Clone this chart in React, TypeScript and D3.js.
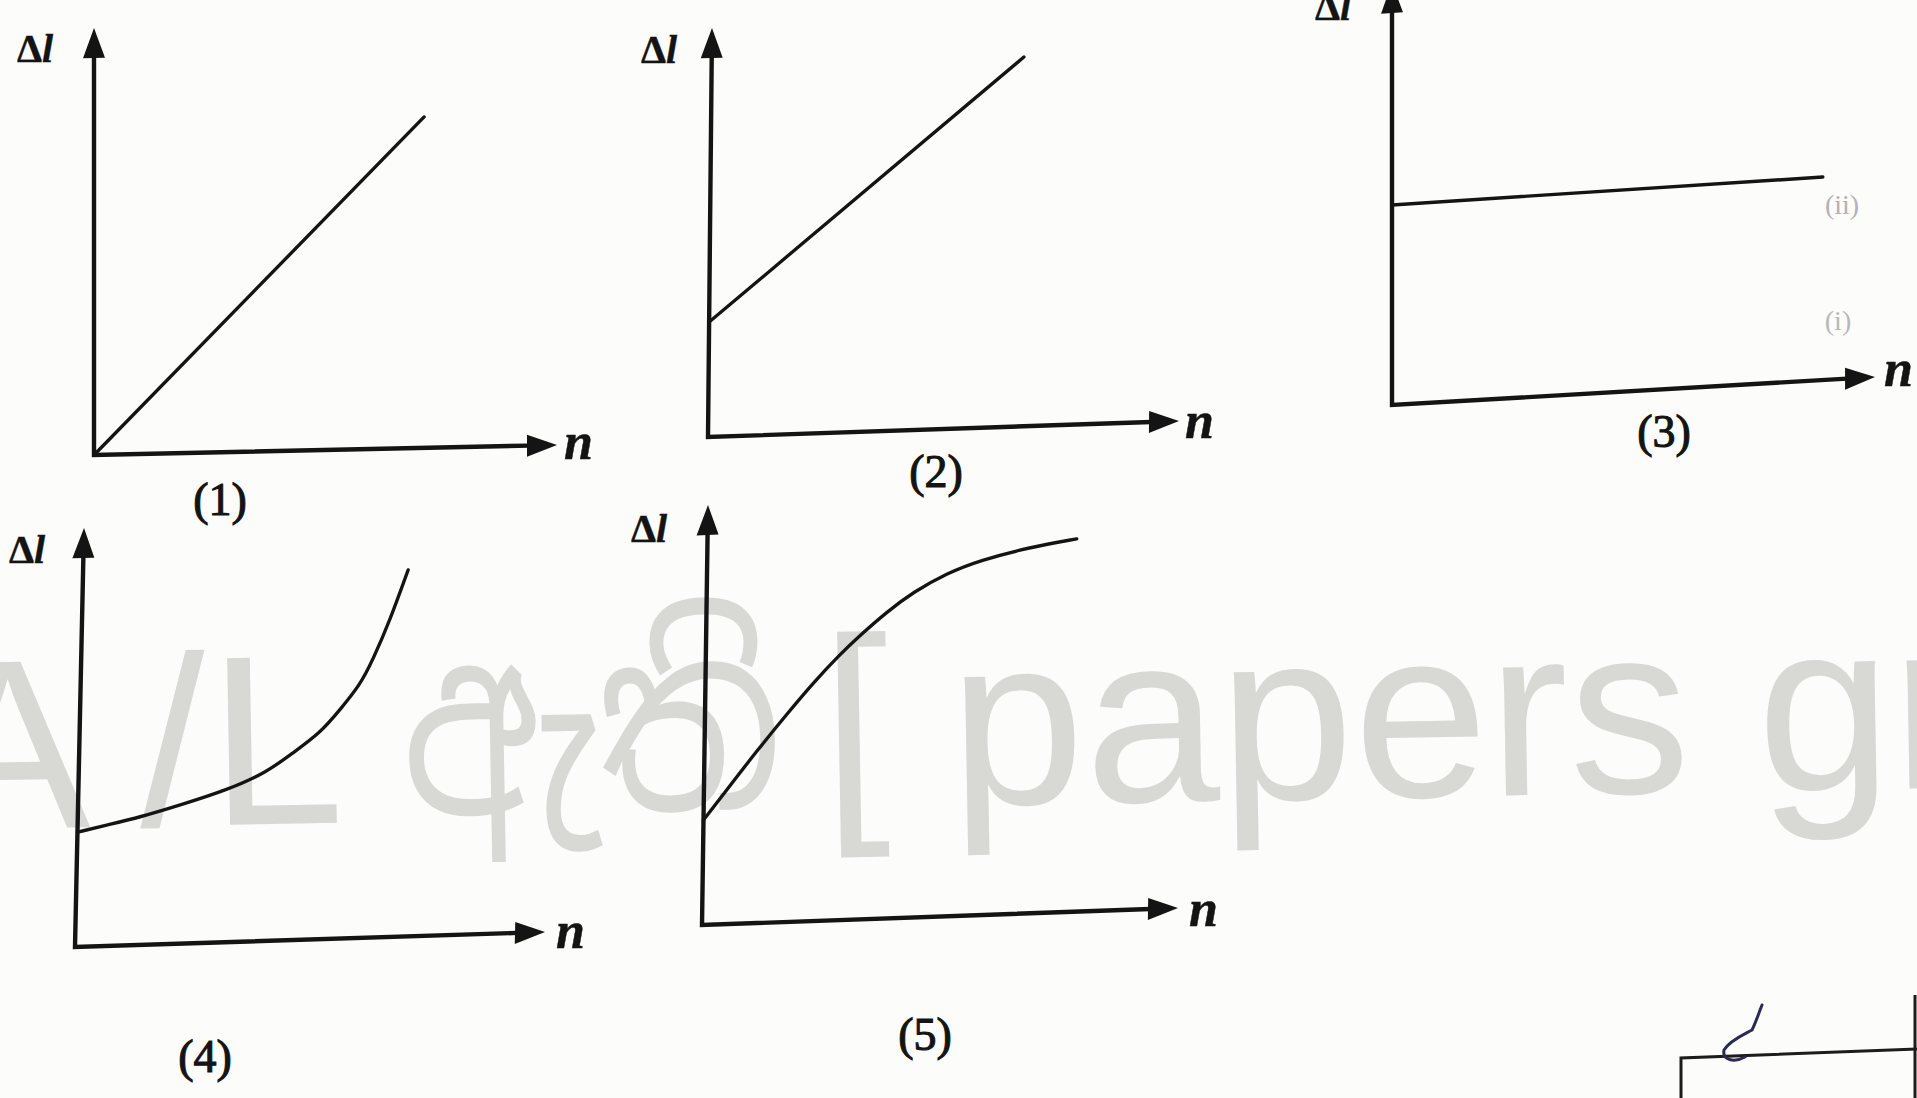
import React from "react";
import * as d3 from "d3";

const W = 1917;
const H = 1098;

// ---------- text ----------
const panelLabels = ["(1)", "(2)", "(3)", "(4)", "(5)"];
const yTitleUpright = "Δ";
const yTitleItalic = "l";
const xTitle = "n";
const faintMarks = ["(ii)", "(i)"];
const watermarkParts = ["A", "/", "L", "ඇති", "[", "papers group"];

// ---------- data: each curve as (n, Δl) in % of the axis length ----------
const n1 = [0, 71.3];
const dl1 = [0, 77.5];

const n2 = [0, 66.3];
const dl2 = [28.1, 90.3];

const n3 = [0, 89.2];
const dl3 = [47.4, 48.1];

const n4 = [0, 6.3, 13.2, 21.7, 31.6, 40.1, 45.5, 51.2, 55.3, 59.5, 62.1, 65.6, 69.2];
const dl4 = [27.4, 28.9, 30.5, 33.1, 36.3, 40.3, 44.7, 49.2, 54.6, 60.4, 66.3, 75.7, 87.5];

const n5 = [0, 5.5, 11.0, 17.2, 22.7, 28.2, 32.3, 37.9, 43.4, 50.4, 57.3, 67.8, 77.6];
const dl5 = [25.0, 33.0, 41.0, 49.5, 56.8, 63.3, 67.6, 73.0, 77.5, 81.7, 84.5, 87.2, 88.8];

const seriesN = [n1, n2, n3, n4, n5];
const seriesDl = [dl1, dl2, dl3, dl4, dl5];

// ---------- layout (pixel geometry of each small chart) ----------
type Layout = {
  o: [number, number];
  xt: [number, number];
  yt: [number, number];
  yLab: [number, number];
  xLab: [number, number];
  cap: [number, number];
};
const layouts: Layout[] = [
  { o: [94, 455], xt: [557, 445], yt: [94, 28], yLab: [17, 62], xLab: [564, 459], cap: [220, 515] },
  { o: [708, 437], xt: [1179, 421], yt: [712, 28], yLab: [641, 63], xLab: [1185, 438], cap: [936, 487] },
  { o: [1392, 405], xt: [1875, 377], yt: [1392, -17], yLab: [1315, 20], xLab: [1884, 386], cap: [1664, 447] },
  { o: [75, 947], xt: [545, 932], yt: [84, 528], yLab: [9, 563], xLab: [556, 948], cap: [205, 1072] },
  { o: [702, 925], xt: [1178, 908], yt: [708, 505], yLab: [631, 542], xLab: [1189, 926], cap: [925, 1050] },
];

const INK = "#141414";
const SERIF = "'Liberation Serif', 'DejaVu Serif', serif";
const SANS = "'Liberation Sans', Arial, 'Noto Sans', 'Noto Sans Sinhala', sans-serif";

function Panel({ lay, n, dl, label }: { lay: Layout; n: number[]; dl: number[]; label: string }) {
  const { o, xt, yt } = lay;
  const xv = [xt[0] - o[0], xt[1] - o[1]];
  const Lx = Math.hypot(xv[0], xv[1]);
  const ax = xv[0] / Lx;
  const ay = xv[1] / Lx;
  const yv = [yt[0] - o[0], yt[1] - o[1]];
  const Ly = Math.hypot(yv[0], yv[1]);
  const bx = yv[0] / Ly;
  const by = yv[1] / Ly;

  const x = d3.scaleLinear().domain([0, 100]).range([0, Lx]);
  const y = d3.scaleLinear().domain([0, 100]).range([0, -Ly]);

  const pts: [number, number][] = n.map((v, i) => [v, dl[i]]);
  const line = d3
    .line<[number, number]>()
    .x((d) => x(d[0]))
    .y((d) => y(d[1]))
    .curve(pts.length > 2 ? d3.curveBasis : d3.curveLinear);

  const ah = 30;
  const hw = 11;
  const axisPath = `M0,${y(100) + ah - 2}L0,0L${x(100) - ah + 2},0`;
  const yArrow = `M0,${y(100)}L${-hw},${y(100) + ah}L${hw},${y(100) + ah}Z`;
  const xArrow = `M${x(100)},0L${x(100) - ah},${-hw}L${x(100) - ah},${hw}Z`;

  return (
    <g>
      <g transform={`matrix(${ax},${ay},${-bx},${-by},${o[0]},${o[1]})`}>
        <path d={axisPath} fill="none" stroke={INK} strokeWidth={4.4} strokeLinejoin="miter" />
        <path d={yArrow} fill={INK} />
        <path d={xArrow} fill={INK} />
        <path d={line(pts) || ""} fill="none" stroke={INK} strokeWidth={3.4} strokeLinecap="round" />
      </g>
      <text
        x={lay.yLab[0]}
        y={lay.yLab[1]}
        fontFamily={SERIF}
        fontSize={40}
        fontWeight="bold"
        fill={INK}
        stroke={INK}
        strokeWidth={0.4}
      >
        {yTitleUpright}
        <tspan fontStyle="italic">{yTitleItalic}</tspan>
      </text>
      <text
        x={lay.xLab[0]}
        y={lay.xLab[1]}
        fontFamily={SERIF}
        fontStyle="italic"
        fontWeight="bold"
        fontSize={52}
        fill={INK}
        stroke={INK}
        strokeWidth={0.5}
      >
        {xTitle}
      </text>
      <text
        x={lay.cap[0]}
        y={lay.cap[1]}
        fontFamily={SERIF}
        fontSize={46}
        textAnchor="middle"
        fill={INK}
        stroke={INK}
        strokeWidth={1.1}
      >
        {label}
      </text>
    </g>
  );
}

const wmX = [-71, 140, 210, 403, 823, 951];

export default function App() {
  return (
    <svg
      width={W}
      height={H}
      viewBox={`0 0 ${W} ${H}`}
      style={{ position: "absolute", left: 0, top: 0, background: "#fcfcfa" }}
    >
      <rect x={0} y={0} width={W} height={H} fill="#fcfcfa" />
      {/* watermark */}
      <g transform="rotate(-1, 960, 800)" fill="#d8d8d4" fontFamily={SANS} fontSize={242}>
        {watermarkParts.map((t, i) => (
          <text
            key={i}
            x={wmX[i]}
            y={i < 3 ? 812 : 805}
            {...(i === 3 ? { textLength: 380, lengthAdjust: "spacingAndGlyphs" } : {})}
          >
            {t}
          </text>
        ))}
      </g>

      {layouts.map((lay, i) => (
        <Panel key={i} lay={lay} n={seriesN[i]} dl={seriesDl[i]} label={panelLabels[i]} />
      ))}

      {/* faint scan marks in panel 3 */}
      <text x={1842} y={214} fontFamily={SERIF} fontSize={28} fill="#b8b0b0" textAnchor="middle">
        {faintMarks[0]}
      </text>
      <text x={1838} y={330} fontFamily={SERIF} fontSize={28} fill="#b8b8b8" textAnchor="middle">
        {faintMarks[1]}
      </text>

      {/* fragment of the next figure (bottom right) */}
      <g stroke="#1c1c1c" strokeWidth={3} fill="none">
        <path d="M1681,1098L1681,1058L1917,1049" />
        <path d="M1915,995L1915,1098" />
      </g>
      <path
        d="M1762,1005C1758,1015 1756,1022 1752,1030C1745,1034 1730,1040 1724,1050C1722,1060 1734,1063 1745,1057"
        fill="none"
        stroke="#2b2a55"
        strokeWidth={3}
        strokeLinecap="round"
      />
    </svg>
  );
}
